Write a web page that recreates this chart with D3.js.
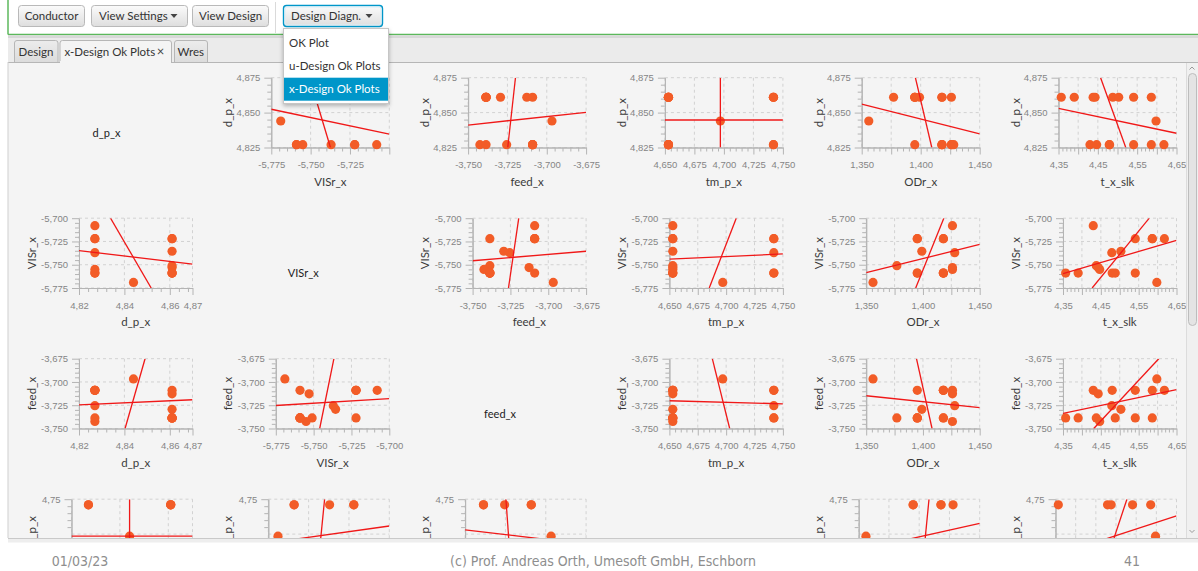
<!DOCTYPE html>
<html><head><meta charset="utf-8">
<script src="https://cdn.jsdelivr.net/npm/d3@7"></script>
<style>
html,body{margin:0;padding:0;background:#fff;}
svg{display:block;font-family:Lato,"Open Sans","Noto Sans",sans-serif;}
</style></head><body>
<svg id="slide" width="1198" height="571"></svg>
<script>
// ---- design runs (one entry per run) ----
const variables = ["d_p_x", "VISr_x", "feed_x", "tm_p_x", "ODr_x", "t_x_slk"];
const d_p_x   = [4.861, 4.861, 4.827, 4.861, 4.861, 4.827, 4.827, 4.827, 4.861, 4.861, 4.861, 4.827, 4.827, 4.861, 4.844, 4.827];
const VISr_x  = [-5.759, -5.759, -5.708, -5.753, -5.751, -5.755, -5.737, -5.759, -5.759, -5.7355, -5.722, -5.759, -5.722, -5.722, -5.769, -5.722];
const feed_x  = [-3.7386, -3.7386, -3.709, -3.7127, -3.7386, -3.7425, -3.7255, -3.709, -3.7386, -3.7294, -3.709, -3.7386, -3.709, -3.7386, -3.6967, -3.709];
const tm_p_x  = [4.742, 4.653, 4.653, 4.653, 4.653, 4.653, 4.742, 4.653, 4.742, 4.653, 4.742, 4.653, 4.742, 4.653, 4.697, 4.653];
const ODr_x   = [1.395, 1.418, 1.426, 1.426, 1.377, 1.426, 1.428, 1.418, 1.395, 1.399, 1.418, 1.418, 1.418, 1.395, 1.356, 1.395];
const t_x_slk = [4.357, 4.390, 4.430, 4.443, 4.438, 4.447, 4.479, 4.480, 4.488, 4.503, 4.541, 4.541, 4.586, 4.586, 4.598, 4.618];

// ---- fitted lines per panel: [x1, y1, x2, y2] in data units ----
const fitRow = [0, 0, 0, 0, 0, 1, 1, 1, 1, 1, 2, 2, 2, 2, 2, 3, 3, 3, 3, 3];
const fitCol = [1, 2, 3, 4, 5, 0, 2, 3, 4, 5, 0, 1, 3, 4, 5, 0, 1, 2, 4, 5];
// regression of the row variable on the column variable
const fitYonX = [
  [-5.775, 4.8524, -5.700, 4.8345], [-3.75, 4.8411, -3.675, 4.8502], [4.65, 4.8447, 4.75, 4.8447],
  [1.35, 4.856, 1.45, 4.8347], [4.35, 4.8531, 4.65, 4.8352],
  [4.82, -5.7348, 4.87, -5.7493], [-3.75, -5.7457, -3.675, -5.7355], [4.65, -5.7439, 4.75, -5.7384],
  [1.35, -5.7586, 1.45, -5.7282], [4.35, -5.7596, 4.65, -5.7238],
  [4.82, -3.7246, 4.87, -3.7191], [-5.775, -3.7253, -5.700, -3.718], [4.65, -3.7202, 4.75, -3.7235],
  [1.35, -3.7148, 1.45, -3.7275], [4.35, -3.7337, 4.65, -3.7083],
  [4.82, 4.697, 4.87, 4.697], [-5.775, 4.6873, -5.700, 4.7116], [-3.75, 4.706, -3.675, 4.6857],
  [1.35, 4.6768, 1.45, 4.7153], [4.35, 4.6697, 4.65, 4.726]];
// regression of the column variable on the row variable
const fitXonY = [
  [-5.7507, 4.875, -5.7374, 4.825], [-3.7199, 4.875, -3.7248, 4.825], [4.697, 4.825, 4.697, 4.875],
  [1.3955, 4.875, 1.4094, 4.825], [4.457, 4.875, 4.521, 4.825],
  [4.8339, -5.700, 4.8518, -5.775], [-3.7195, -5.700, -3.7263, -5.775], [4.7089, -5.700, 4.6851, -5.775],
  [1.4184, -5.700, 1.3936, -5.775], [4.578, -5.700, 4.427, -5.775],
  [4.8491, -3.675, 4.8403, -3.75], [-5.7366, -3.675, -5.746, -3.75], [4.6878, -3.675, 4.7031, -3.75],
  [1.3943, -3.675, 1.408, -3.75], [4.6031, -3.675, 4.4313, -3.75],
  [4.844, 4.65, 4.844, 4.75], [-5.7401, 4.75, -5.7444, 4.65], [-3.7247, 4.75, -3.7216, 4.65],
  [1.4081, 4.75, 1.4025, 4.65], [4.5271, 4.75, 4.4696, 4.65]];

// ---- axis settings per variable (x role = column, y role = row) ----
const xDomains = [[4.82, 4.87], [-5.775, -5.70], [-3.75, -3.675], [4.65, 4.75], [1.35, 1.45], [4.35, 4.65]];
const xMajorTicks = [
  [4.82, 4.84, 4.86, 4.87],
  [-5.775, -5.75, -5.725, -5.70],
  [-3.75, -3.725, -3.70, -3.675],
  [4.65, 4.675, 4.70, 4.725, 4.75],
  [1.35, 1.375, 1.40, 1.425, 1.45],
  [4.35, 4.40, 4.45, 4.50, 4.55, 4.60, 4.65]];
const xTickLabels = [
  ["4,82", "4,84", "4,86", "4,87"],
  ["-5,775", "-5,750", "-5,725", "-5,700"],
  ["-3,750", "-3,725", "-3,700", "-3,675"],
  ["4,650", "4,675", "4,700", "4,725", "4,750"],
  ["1,350", "", "1,400", "", "1,450"],
  ["4,35", "", "4,45", "", "4,55", "", "4,65"]];
const xMinorSteps = [0.004, 0.005, 0.005, 0.005, 0.005, 0.01];

const yDomains = [[4.825, 4.875], [-5.775, -5.70], [-3.75, -3.675], [4.65, 4.75]];
const yMajorTicks = [
  [4.825, 4.85, 4.875],
  [-5.775, -5.75, -5.725, -5.70],
  [-3.75, -3.725, -3.70, -3.675],
  [4.65, 4.70, 4.75]];
const yTickLabels = [
  ["4,825", "4,850", "4,875"],
  ["-5,775", "-5,750", "-5,725", "-5,700"],
  ["-3,750", "-3,725", "-3,700", "-3,675"],
  ["4,65", "4,70", "4,75"]];
const yMinorSteps = [0.005, 0.005, 0.005, 0.01];
// labels suppressed by the axis (row, column, label)
const suppressedXLabels = [[0, 1, "-5,700"]];

const menuItems = ["OK Plot", "u-Design Ok Plots", "x-Design Ok Plots"];
const tabs = ["Design", "x-Design Ok Plots", "Wres"];

const table = [d_p_x, VISr_x, feed_x, tm_p_x, ODr_x, t_x_slk];

// ---- layout ----
const CELL_X0 = 8.5, CELL_W = 196.8, PLOT_RIGHT = 184;
const ROW_TOP = [77.7, 218.2, 358.7, 499.2];
const PLOT_H = 69.8;
const PLOT_LEFT = [66, 70.5, 70.5, 63];
const VIEW_BOTTOM = 538;
const DOT = "#f25c27", FIT = "#f01818";
const AXIS = "#b4b4b4", TICKTXT = "#858585", GRID = "#d2d2d2";

const svg = d3.select("#slide");
const defs = svg.append("defs");

const btnGrad = defs.append("linearGradient").attr("id", "btnGrad").attr("x1", 0).attr("y1", 0).attr("x2", 0).attr("y2", 1);
btnGrad.append("stop").attr("offset", "0%").attr("stop-color", "#fbfbfb");
btnGrad.append("stop").attr("offset", "100%").attr("stop-color", "#dedede");
const tabGrad = defs.append("linearGradient").attr("id", "tabGrad").attr("x1", 0).attr("y1", 0).attr("x2", 0).attr("y2", 1);
tabGrad.append("stop").attr("offset", "0%").attr("stop-color", "#ececec");
tabGrad.append("stop").attr("offset", "100%").attr("stop-color", "#dcdcdc");
const shadow = defs.append("filter").attr("id", "menuShadow").attr("x", "-20%").attr("y", "-20%").attr("width", "140%").attr("height", "150%");
shadow.append("feDropShadow").attr("dx", 0).attr("dy", 2).attr("stdDeviation", 2.2).attr("flood-color", "#000").attr("flood-opacity", 0.28);

defs.append("clipPath").attr("id", "contentClip")
  .append("rect").attr("x", 8).attr("y", 62).attr("width", 1178).attr("height", VIEW_BOTTOM - 62);

// ---- application frame ----
svg.append("rect").attr("x", 0).attr("y", 0).attr("width", 1198).attr("height", 571).attr("fill", "#fff");
svg.append("line").attr("x1", 8).attr("x2", 8).attr("y1", 0).attr("y2", 34.5).attr("stroke", "#5cb85c").attr("stroke-width", 1.5);
svg.append("line").attr("x1", 8).attr("x2", 1198).attr("y1", 34.5).attr("y2", 34.5).attr("stroke", "#5cb85c").attr("stroke-width", 1.5);
svg.append("line").attr("x1", 275.5).attr("x2", 275.5).attr("y1", 2).attr("y2", 33).attr("stroke", "#dadada");

function button(x, w, label, withArrow, focused) {
  const g = svg.append("g");
  g.append("rect").attr("x", x + 0.5).attr("y", 5.5).attr("width", w).attr("height", 21).attr("rx", 3)
    .attr("fill", "url(#btnGrad)").attr("stroke", focused ? "#0096c9" : "#b9b9b9").attr("stroke-width", focused ? 1.4 : 1);
  if (focused) {
    g.append("rect").attr("x", x + 2).attr("y", 7).attr("width", w - 3).attr("height", 18).attr("rx", 2)
      .attr("fill", "none").attr("stroke", "#d6eef8").attr("stroke-width", 1);
  }
  g.append("text").attr("x", withArrow ? x + 8 : x + w / 2 + 0.5).attr("y", 19.8)
    .attr("text-anchor", withArrow ? "start" : "middle")
    .attr("font-size", 11.5).attr("fill", "#333").text(label);
  if (withArrow) {
    const ax = x + w - 13;
    g.append("path").attr("d", `M${ax - 3.5},14 L${ax + 3.5},14 L${ax},18 Z`).attr("fill", "#444");
  }
}
button(18, 66, "Conductor", false, false);
button(91, 96, "View Settings", true, false);
button(192, 76, "View Design", false, false);
button(283, 99, "Design Diagn.", true, true);

// tab header
svg.append("rect").attr("x", 8).attr("y", 35.3).attr("width", 1190).attr("height", 3).attr("fill", "#d8d8d8");
svg.append("rect").attr("x", 8).attr("y", 38).attr("width", 1190).attr("height", 24).attr("fill", "#ebebeb");
const tabX = [14, 59.5, 174];
const tabW = [44, 112, 33.5];
tabs.forEach((t, i) => {
  const sel = i === 1;
  const x = tabX[i], w = tabW[i];
  svg.append("path")
    .attr("d", `M${x + 0.5},62 L${x + 0.5},43 Q${x + 0.5},40.5 ${x + 3},40.5 L${x + w - 2.5},40.5 Q${x + w},40.5 ${x + w},43 L${x + w},62`)
    .attr("fill", sel ? "#f4f4f4" : "url(#tabGrad)").attr("stroke", "#b6b6b6");
  svg.append("text").attr("x", sel ? x + 5 : x + w / 2).attr("y", 55.5)
    .attr("text-anchor", sel ? "start" : "middle").attr("font-size", 11.5).attr("fill", "#333").text(t);
  if (sel) {
    svg.append("text").attr("x", x + w - 11).attr("y", 55.8).attr("text-anchor", "middle")
      .attr("font-size", 13).attr("fill", "#444").text("\u00d7");
  }
});

// content area
svg.append("rect").attr("x", 8).attr("y", 62).attr("width", 1190).attr("height", VIEW_BOTTOM - 62).attr("fill", "#f4f4f4");
svg.append("line").attr("x1", 8).attr("x2", 1198).attr("y1", 62.5).attr("y2", 62.5).attr("stroke", "#b6b6b6");
svg.append("rect").attr("x", 60).attr("y", 61).attr("width", 111).attr("height", 2).attr("fill", "#f4f4f4");
svg.append("line").attr("x1", 8).attr("x2", 8).attr("y1", 62).attr("y2", VIEW_BOTTOM).attr("stroke", "#cfcfcf");
svg.append("rect").attr("x", 8).attr("y", VIEW_BOTTOM).attr("width", 1190).attr("height", 4.5).attr("fill", "#eeeeee");
svg.append("line").attr("x1", 8).attr("x2", 1198).attr("y1", VIEW_BOTTOM + 0.5).attr("y2", VIEW_BOTTOM + 0.5).attr("stroke", "#c9c9c9");

// vertical scroll bar
svg.append("rect").attr("x", 1186).attr("y", 63).attr("width", 12).attr("height", VIEW_BOTTOM - 63).attr("fill", "#f0f0f0");
svg.append("line").attr("x1", 1186.5).attr("x2", 1186.5).attr("y1", 63).attr("y2", VIEW_BOTTOM).attr("stroke", "#dcdcdc");
svg.append("rect").attr("x", 1188.5).attr("y", 73.5).attr("width", 8).attr("height", 252).attr("rx", 4)
  .attr("fill", "#e4e4e4").attr("stroke", "#bdbdbd");
svg.append("path").attr("d", "M1189.5,69.5 L1192,67 L1194.5,69.5").attr("fill", "none").attr("stroke", "#9a9a9a");
svg.append("path").attr("d", "M1189.5,530 L1192,532.5 L1194.5,530").attr("fill", "none").attr("stroke", "#9a9a9a");

// ---- scatter matrix ----
const content = svg.append("g").attr("clip-path", "url(#contentClip)");

function minorValues(domain, step, majors) {
  const n = Math.round((domain[1] - domain[0]) / step);
  const out = [];
  for (let i = 0; i <= n; i++) {
    const v = domain[0] + i * step;
    if (!majors.some(m => Math.abs(m - v) < step / 4)) out.push(v);
  }
  return out;
}

function styleAxis(g) {
  g.select(".domain").attr("stroke", AXIS);
  g.selectAll(".tick line").attr("stroke", AXIS);
  g.selectAll(".tick text").attr("fill", TICKTXT).attr("font-size", 9.5);
}

function drawPanel(r, c) {
  const cx = CELL_X0 + c * CELL_W;
  const left = cx + PLOT_LEFT[r], right = cx + PLOT_RIGHT;
  const top = ROW_TOP[r], bottom = top + PLOT_H;
  const g = content.append("g");
  const bottomVisible = bottom < VIEW_BOTTOM;

  if (r === c) {
    if (bottomVisible) {
      g.append("text").attr("x", cx + 98).attr("y", top + PLOT_H / 2 + 24)
        .attr("text-anchor", "middle").attr("font-size", 11).attr("fill", "#222").text(variables[r]);
    }
    return;
  }

  const x = d3.scaleLinear().domain(xDomains[c]).range([left, right]);
  const y = d3.scaleLinear().domain(yDomains[r]).range([bottom, top]);

  // dashed grid at major ticks
  g.append("g").selectAll("line").data(xMajorTicks[c]).join("line")
    .attr("x1", d => x(d)).attr("x2", d => x(d)).attr("y1", top).attr("y2", bottom)
    .attr("stroke", GRID).attr("stroke-dasharray", "3,3");
  g.append("g").selectAll("line").data(yMajorTicks[r]).join("line")
    .attr("x1", left).attr("x2", right).attr("y1", d => y(d)).attr("y2", d => y(d))
    .attr("stroke", GRID).attr("stroke-dasharray", "3,3");

  // x axis (only where it lies inside the scrolled view)
  if (bottomVisible) {
    const xLabels = xTickLabels[c].map(l => suppressedXLabels.some(s => s[0] === r && s[1] === c && s[2] === l) ? "" : l);
    g.append("g").attr("transform", `translate(0,${bottom})`)
      .call(d3.axisBottom(x).tickValues(minorValues(xDomains[c], xMinorSteps[c], xMajorTicks[c])).tickSize(4).tickSizeOuter(0).tickFormat(""))
      .call(styleAxis);
    g.append("g").attr("transform", `translate(0,${bottom})`)
      .call(d3.axisBottom(x).tickValues(xMajorTicks[c]).tickSize(7).tickSizeOuter(0).tickPadding(7).tickFormat((d, i) => xLabels[i]))
      .call(styleAxis);
    g.append("text").attr("x", (left + right) / 2).attr("y", bottom + 38)
      .attr("text-anchor", "middle").attr("font-size", 11.5).attr("fill", "#3a3a3a").text(variables[c]);
  }

  // y axis
  const yTicksShown = yMajorTicks[r].filter(v => y(v) < VIEW_BOTTOM - 4);
  g.append("g").attr("transform", `translate(${left},0)`)
    .call(d3.axisLeft(y).tickValues(minorValues(yDomains[r], yMinorSteps[r], yMajorTicks[r])).tickSize(4).tickSizeOuter(0).tickFormat(""))
    .call(styleAxis);
  g.append("g").attr("transform", `translate(${left},0)`)
    .call(d3.axisLeft(y).tickValues(yTicksShown).tickSize(7).tickSizeOuter(0).tickPadding(4)
      .tickFormat(v => yTickLabels[r][yMajorTicks[r].indexOf(v)]))
    .call(styleAxis);
  g.append("text").attr("transform", `translate(${cx + 27},${(top + bottom) / 2}) rotate(-90)`)
    .attr("text-anchor", "middle").attr("font-size", 11.5).attr("fill", "#3a3a3a").text(variables[r]);

  // points
  const xs = table[c], ys = table[r];
  g.append("g").selectAll("circle").data(d3.range(xs.length)).join("circle")
    .attr("cx", i => x(xs[i])).attr("cy", i => y(ys[i])).attr("r", 4.6).attr("fill", DOT);

  // the two fitted lines, clipped to the plot area
  const k = fitRow.findIndex((rr, i) => rr === r && fitCol[i] === c);
  const id = `plot-${r}-${c}`;
  defs.append("clipPath").attr("id", id).append("rect")
    .attr("x", left).attr("y", top).attr("width", right - left).attr("height", bottom - top);
  const fg = g.append("g").attr("clip-path", `url(#${id})`);
  fg.selectAll("line").data([fitYonX[k], fitXonY[k]]).join("line")
    .attr("x1", d => x(d[0])).attr("y1", d => y(d[1]))
    .attr("x2", d => x(d[2])).attr("y2", d => y(d[3]))
    .attr("stroke", FIT).attr("stroke-width", 1.3);
}

for (let r = 0; r < 4; r++) for (let c = 0; c < 6; c++) drawPanel(r, c);

// ---- open drop-down menu ----
const menu = svg.append("g");
menu.append("rect").attr("x", 283.5).attr("y", 28.5).attr("width", 105).attr("height", 75)
  .attr("fill", "#fff").attr("stroke", "#c6c6c6").attr("filter", "url(#menuShadow)");
menuItems.forEach((t, i) => {
  const cy = 42.8 + i * 23.2;
  if (i === 2) {
    menu.append("rect").attr("x", 284).attr("y", cy - 11.5).attr("width", 104).attr("height", 23).attr("fill", "#0096c9");
  }
  menu.append("text").attr("x", 289).attr("y", cy + 4).attr("font-size", 11.5)
    .attr("fill", i === 2 ? "#fff" : "#333").text(t);
});

// ---- slide footer ----
const foot = svg.append("g").attr("font-family", "'Liberation Sans Narrow','DejaVu Sans Condensed',sans-serif")
  .attr("font-size", 14).attr("fill", "#8e8e8e");
foot.append("text").attr("x", 80).attr("y", 566).attr("text-anchor", "middle").text("01/03/23");
foot.append("text").attr("x", 603).attr("y", 566).attr("text-anchor", "middle").text("(c) Prof. Andreas Orth, Umesoft GmbH, Eschborn");
foot.append("text").attr("x", 1132).attr("y", 566).attr("text-anchor", "middle").text("41");
</script></body></html>
